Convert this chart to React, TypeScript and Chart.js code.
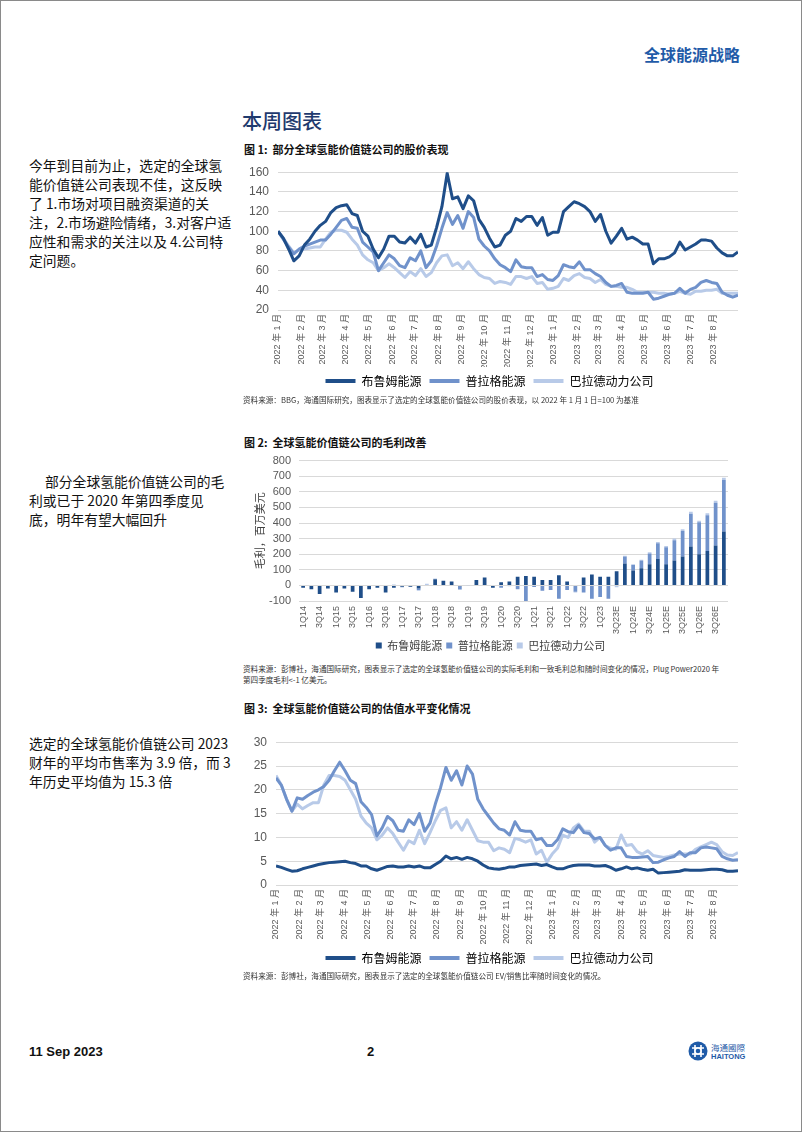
import React, { useEffect, useRef } from "react";
import { Chart, registerables } from "chart.js";
Chart.register(...registerables);

const SERIES_NAMES = ["布鲁姆能源", "普拉格能源", "巴拉德动力公司"];
const COLORS = ["#1F4E89", "#7092CB", "#B8CAE8"];

// Figure 1: share price, weekly from 2022-01-01 (2022-01-01 = 100)
const priceBloom = [
  100, 93, 82, 70, 75, 86, 92, 100, 106, 110,
  119, 124, 126, 127, 118, 116, 100, 95, 82, 73,
  82, 95, 95, 89, 88, 94, 88, 97, 84, 86,
  104, 125, 159, 133, 135, 123, 136, 131, 112, 104,
  93, 84, 86, 96, 100, 113, 110, 115, 115, 106,
  114, 96, 99, 99, 120, 125, 130, 128, 125, 120,
  110, 117, 100, 88, 95, 103, 92, 94, 91, 87,
  87, 67, 72, 72, 74, 78, 89, 81, 84, 87,
  91, 91, 90, 83, 78, 75, 75, 79,
];
const pricePlug = [
  100, 92, 84, 77, 82, 85, 87, 89, 91, 91,
  97, 104, 111, 113, 104, 103, 89, 84, 79, 60,
  68, 76, 72, 65, 63, 73, 70, 80, 63, 70,
  85, 103, 119, 107, 116, 103, 120, 114, 92, 85,
  80, 72, 66, 63, 59, 71, 64, 63, 63, 54,
  56, 51, 50, 55, 66, 64, 63, 69, 61, 61,
  57, 54, 48, 44, 45, 47, 38, 37, 37, 37,
  38, 31, 32, 34, 36, 37, 42, 37, 41, 43,
  48, 50, 48, 47, 38, 35, 33, 35,
];
const priceBallard = [
  100, 93, 85, 78, 81, 82, 83, 84, 84, 92,
  99, 101, 101, 99, 92, 86, 76, 71, 68, 60,
  63, 67, 63, 58, 53, 59, 55, 62, 54, 58,
  68, 75, 76, 65, 68, 62, 69, 62, 56, 53,
  52, 47, 49, 48, 46, 54, 54, 52, 54, 47,
  48, 41, 42, 44, 52, 50, 55, 57, 53, 52,
  48, 51, 46, 44, 44, 43, 43, 41, 38, 38,
  38, 38, 37, 37, 36, 37, 39, 37, 36, 39,
  39, 40, 40, 41, 37, 37, 37, 37,
];

// Figure 3: EV/Sales, weekly
const evBloom = [
  4, 3.7, 3.3, 2.9, 3, 3.4, 3.7, 4, 4.3, 4.5,
  4.7, 4.8, 4.9, 5, 4.7, 4.5, 4, 4, 3.4, 3.1,
  3.5, 3.9, 4, 3.8, 3.8, 4, 3.8, 4, 3.6, 3.6,
  4.3, 5, 6.1, 5.5, 5.8, 5.4, 5.8, 5.5, 5, 4.2,
  3.6, 3.4, 3.3, 3.5, 3.8, 3.8, 4.1, 4.2, 4.3, 4.4,
  4.1, 4.3, 3.8, 3.4, 3.4, 3.8, 4.1, 4.2, 4.2, 4.2,
  4, 4, 4.1, 3.7, 3.1, 3.4, 3.8, 3.4, 3.6, 3.3,
  3.1, 3.3, 2.5, 2.6, 2.7, 2.8, 2.9, 3.2, 3.1, 3.1,
  3.1, 3.2, 3.3, 3.3, 3.2, 2.9, 2.9, 3.0,
];
const evPlug = [
  22.5, 21, 18, 15.5, 18.3, 18, 18.8, 19.5, 20, 20.7,
  22, 24, 25.8, 24, 22, 21.3, 17.5, 16.3, 14.8, 10.3,
  12, 14.4, 13.5, 11.5, 11.3, 13.7, 12.7, 15, 11.3, 13,
  17, 20.5, 24.7, 22, 24, 21, 25, 23.3, 18, 16,
  14.5, 13, 11.8, 11.5, 10.5, 13.3, 11.5, 11.3, 11.3, 9.5,
  9.8, 8.3, 8.3, 9.5, 11.8, 11.2, 11, 12.5, 11, 10.8,
  9.7, 10, 8.3, 7.3, 7.8, 7.8, 6, 5.8, 5.8, 5.9,
  6, 4.7, 4.8, 5.3, 5.7, 6, 7, 6, 6.8, 6.8,
  7.8, 8, 7.8, 7.6, 6, 5.5, 5.2, 5.3,
];
const evBallard = [
  23, 21, 18, 15.5, 17, 16, 16.7, 17.3, 17.3, 21,
  23, 23, 22.8, 22, 20, 18, 14.5, 13, 12, 9.5,
  10.5, 12, 10.8, 9, 7.3, 9.3, 8.7, 11.5, 8.7, 11,
  13.5, 15.7, 16.2, 12, 13.3, 11.5, 13.7, 11.5, 9.3, 9,
  9, 7.2, 7.8, 7.5, 6.8, 9.8, 9.5, 9, 9.5, 6.5,
  7.3, 4.8, 6.5, 7.7, 10.5, 10, 12, 12.8, 11.3, 11.3,
  9, 10, 8.3, 7.7, 7.5, 10.5, 8.3, 8.5, 7, 6.5,
  7.2, 6.2, 6, 5.8, 6, 6.3, 6.5, 6.5, 6.5, 7.5,
  8, 8.5, 9, 8.5, 7, 6.3, 6.2, 6.8,
];

const monthTickLabels = [
  "2022 年 1 月", "2022 年 2 月", "2022 年 3 月", "2022 年 4 月", "2022 年 5 月",
  "2022 年 6 月", "2022 年 7 月", "2022 年 8 月", "2022 年 9 月", "2022 年 10 月",
  "2022 年 11 月", "2022 年 12 月", "2023 年 1 月", "2023 年 2 月", "2023 年 3 月",
  "2023 年 4 月", "2023 年 5 月", "2023 年 6 月", "2023 年 7 月", "2023 年 8 月",
];

// Figure 2: gross profit, USD mn, quarterly
const quarterLabels = [
  "1Q14", "2Q14", "3Q14", "4Q14", "1Q15", "2Q15", "3Q15", "4Q15",
  "1Q16", "2Q16", "3Q16", "4Q16", "1Q17", "2Q17", "3Q17", "4Q17",
  "1Q18", "2Q18", "3Q18", "4Q18", "1Q19", "2Q19", "3Q19", "4Q19",
  "1Q20", "2Q20", "3Q20", "4Q20", "1Q21", "2Q21", "3Q21", "4Q21",
  "1Q22", "2Q22", "3Q22", "4Q22", "1Q23", "2Q23", "3Q23E", "4Q23E",
  "1Q24E", "2Q24E", "3Q24E", "4Q24E", "1Q25E", "2Q25E", "3Q25E", "4Q25E",
  "1Q26E", "2Q26E", "3Q26E", "4Q26E",
];
const gpBloom = [
  -15, -25, -55, -20, -45, -20, -40, -80, -25, -15,
  -45, -15, -8, -8, -20, 3, 40, 30, 25, -5,
  2, 35, 50, -15, 20, 25, 55, 60, 55, 35,
  35, 65, 25, 3, 50, 70, 55, 55, 90, 140,
  95, 110, 135, 170, 135, 160, 185, 250, 200, 220,
  255, 345,
];
const gpPlug = [
  0, 0, 0, 0, 0, 0, 0, 0, 0, 0,
  0, 0, 0, 0, -10, 0, 0, 0, 0, -20,
  0, 0, 0, 0, -15, 0, -25, -110, -10, -35,
  -30, -85, -30, -40, -45, -85, -75, -85, 0, 45,
  35, 50, 70, 100, 110, 130, 165, 210, 205, 230,
  275, 330,
];
const gpBallard = [
  0, 0, 0, 0, 0, 0, 0, 0, 0, 0,
  0, 5, -5, -3, -5, 8, 5, 0, 0, -5,
  -3, 0, 0, 0, 0, -5, 0, 0, 0, 0,
  0, 0, 0, -5, 0, 0, 0, 0, -12, 5,
  5, 5, 8, 8, 8, 10, 10, 12, 10, 12,
  12, 15,
];

const CJK = "'Noto Sans CJK SC', 'Noto Sans', sans-serif";
const NUM = "'Liberation Sans', 'DejaVu Sans', sans-serif";
const XTICK = "'Liberation Sans Narrow', 'Liberation Sans', 'Noto Sans CJK SC', sans-serif";
const TICK_COLOR = "#595959";
const GRID_COLOR = "#D9D9D9";

const DAY = 86400000;
const START = Date.UTC(2022, 0, 1);
const weekDays = priceBloom.map((_, i) => i * 7);
const monthDays = monthTickLabels.map((_, k) => Math.round((Date.UTC(2022, k, 1) - START) / DAY));
const lastDay = weekDays[weekDays.length - 1];

function lineLegend(chart: any) {
  return chart.data.datasets.map((d: any, i: number) => ({
    text: d.label,
    fillStyle: d.borderColor,
    strokeStyle: d.borderColor,
    lineWidth: 0,
    hidden: false,
    datasetIndex: i,
  }));
}

function lineConfig(series: number[][], yMin: number, yMax: number, step: number, yWidth: number, xHeight: number, padTop: number, padRight: number) {
  return {
    type: "line",
    data: {
      datasets: series.map((vals, i) => ({
        label: SERIES_NAMES[i],
        data: vals.map((v, j) => ({ x: weekDays[j], y: v })),
        borderColor: COLORS[i],
        backgroundColor: COLORS[i],
        borderWidth: 3,
        pointRadius: 0,
        tension: 0,
        borderJoinStyle: "round",
      })),
    },
    options: {
      responsive: false,
      animation: false,
      layout: { padding: { top: padTop, right: padRight, bottom: 0, left: 0 } },
      plugins: {
        tooltip: { enabled: false },
        legend: {
          position: "bottom",
          labels: {
            boxWidth: 30,
            boxHeight: 4,
            padding: 8,
            color: "#404040",
            font: { family: CJK, size: 12 },
            generateLabels: lineLegend,
          },
        },
      },
      scales: {
        x: {
          type: "linear",
          min: 0,
          max: lastDay,
          afterBuildTicks: (s: any) => {
            s.ticks = monthDays.map((v) => ({ value: v }));
          },
          afterFit: (s: any) => {
            s.height = xHeight;
          },
          grid: { display: false, drawTicks: false, tickLength: 0 },
          border: { display: false },
          ticks: {
            autoSkip: false,
            minRotation: 90,
            maxRotation: 90,
            padding: 4,
            color: TICK_COLOR,
            font: { family: XTICK, size: 9 },
            callback: (v: any) => {
              const i = monthDays.indexOf(v);
              return i >= 0 ? monthTickLabels[i] : "";
            },
          },
        },
        y: {
          min: yMin,
          max: yMax,
          afterFit: (s: any) => {
            s.width = yWidth;
          },
          grid: { color: GRID_COLOR, drawTicks: false, lineWidth: 1 },
          border: { display: false },
          ticks: {
            autoSkip: false,
            stepSize: step,
            padding: 9,
            color: TICK_COLOR,
            font: { family: NUM, size: 12 },
          },
        },
      },
    },
  };
}

function barConfig() {
  const sets = [gpBloom, gpPlug, gpBallard];
  return {
    type: "bar",
    data: {
      labels: quarterLabels,
      datasets: sets.map((vals, i) => ({
        label: SERIES_NAMES[i],
        data: vals,
        backgroundColor: COLORS[i],
        borderWidth: 0,
        barPercentage: 0.45,
        categoryPercentage: 1,
      })),
    },
    options: {
      responsive: false,
      animation: false,
      layout: { padding: { top: 13, right: 33, bottom: 0, left: 12 } },
      plugins: {
        tooltip: { enabled: false },
        legend: {
          position: "bottom",
          labels: {
            boxWidth: 6,
            boxHeight: 6,
            padding: 4,
            color: "#404040",
            font: { family: CJK, size: 11 },
          },
        },
      },
      scales: {
        x: {
          stacked: true,
          afterFit: (s: any) => {
            s.height = 35;
          },
          grid: { display: false, drawTicks: false, tickLength: 0 },
          border: { display: false },
          ticks: {
            autoSkip: false,
            minRotation: 90,
            maxRotation: 90,
            padding: 5,
            color: TICK_COLOR,
            font: { family: NUM, size: 9 },
            callback: function (this: any, v: any, idx: number) {
              return idx % 2 === 0 ? quarterLabels[idx] : "";
            },
          },
        },
        y: {
          stacked: true,
          min: -100,
          max: 800,
          afterFit: (s: any) => {
            s.width = 46;
          },
          title: {
            display: true,
            text: "毛利，百万美元",
            color: "#404040",
            font: { family: CJK, size: 11 },
            padding: 0,
          },
          grid: { color: GRID_COLOR, drawTicks: false, lineWidth: 1 },
          border: { display: false },
          ticks: {
            autoSkip: false,
            stepSize: 100,
            padding: 8,
            color: TICK_COLOR,
            font: { family: NUM, size: 11 },
          },
        },
      },
    },
  };
}

function ChartCanvas(props: { left: number; top: number; width: number; height: number; make: () => any }) {
  const ref = useRef<HTMLCanvasElement | null>(null);
  useEffect(() => {
    const chart = new Chart(ref.current as HTMLCanvasElement, props.make());
    return () => chart.destroy();
  }, []);
  return (
    <canvas
      ref={ref}
      width={props.width}
      height={props.height}
      style={{ position: "absolute", left: props.left, top: props.top, width: props.width, height: props.height }}
    />
  );
}

const abs = (left: number, top: number, extra: any = {}) => ({ position: "absolute" as const, left, top, ...extra });

function Logo() {
  return (
    <svg width={20} height={20} viewBox="0 0 20 20" style={abs(687, 1040)}>
      <circle cx={10} cy={10} r={9.5} fill="#1F5BA8" />
      <path d="M4 7 H16 M4 13 H16 M7 4 V16 M13 4 V16" stroke="#fff" strokeWidth={1.6} fill="none" />
      <circle cx={10} cy={10} r={3} fill="#1F5BA8" stroke="#fff" strokeWidth={1.4} />
    </svg>
  );
}

export default function App() {
  const para = { fontFamily: CJK, fontSize: 13.8, lineHeight: "19px", color: "#111", whiteSpace: "nowrap" as const };
  const figTitle = { fontFamily: CJK, fontSize: 11, fontWeight: 700, color: "#111", whiteSpace: "pre" as const, lineHeight: "14px" };
  const source = { fontFamily: CJK, fontSize: 7.6, color: "#333", whiteSpace: "nowrap" as const, lineHeight: "11px" };
  return (
    <div
      style={{
        position: "absolute",
        left: 0,
        top: 0,
        width: 802,
        height: 1132,
        boxSizing: "border-box",
        border: "1px solid #8a8a8a",
        background: "#fff",
        overflow: "hidden",
      }}
    >
      <div style={abs(643, 43, { fontFamily: CJK, fontSize: 16, fontWeight: 700, color: "#1F5BA8", lineHeight: "20px" })}>全球能源战略</div>
      <div style={abs(241, 107, { fontFamily: CJK, fontSize: 20, color: "#1F3A6E", lineHeight: "26px", fontWeight: 500 })}>本周图表</div>

      <div style={abs(28, 155, para)}>
        今年到目前为止，选定的全球氢<br />
        能价值链公司表现不佳，这反映<br />
        了 1.市场对项目融资渠道的关<br />
        注，2.市场避险情绪，3.对客户适<br />
        应性和需求的关注以及 4.公司特<br />
        定问题。
      </div>
      <div style={abs(28, 471, para)}>
        <span style={{ paddingLeft: 16 }}>部分全球氢能价值链公司的毛</span><br />
        利或已于 2020 年第四季度见<br />
        底，明年有望大幅回升
      </div>
      <div style={abs(28, 733, para)}>
        选定的全球氢能价值链公司 2023<br />
        财年的平均市售率为 3.9 倍，而 3<br />
        年历史平均值为 15.3 倍
      </div>

      <div style={abs(243, 141, figTitle)}>{"图 1:  部分全球氢能价值链公司的股价表现"}</div>
      <ChartCanvas left={240} top={155} width={520} height={241}
        make={() => lineConfig([priceBloom, pricePlug, priceBallard], 20, 160, 20, 37, 57, 12, 23)} />
      <div style={abs(242, 393, source)}>资料来源：BBG，海通国际研究，图表显示了选定的全球氢能价值链公司的股价表现，以 2022 年 1 月 1 日=100 为基准</div>

      <div style={abs(243, 434, figTitle)}>{"图 2:  全球氢能价值链公司的毛利改善"}</div>
      <ChartCanvas left={240} top={445} width={520} height={215} make={barConfig} />
      <div style={abs(242, 662, source)}>
        资料来源：彭博社，海通国际研究，图表显示了选定的全球氢能价值链公司的实际毛利和一致毛利总和随时间变化的情况，Plug Power2020 年<br />
        第四季度毛利&lt;-1 亿美元。
      </div>

      <div style={abs(243, 700, figTitle)}>{"图 3:  全球氢能价值链公司的估值水平变化情况"}</div>
      <ChartCanvas left={240} top={725} width={520} height={248}
        make={() => lineConfig([evBloom, evPlug, evBallard], 0, 30, 5, 35, 59, 13, 23)} />
      <div style={abs(242, 969, source)}>资料来源：彭博社，海通国际研究，图表显示了选定的全球氢能价值链公司 EV/销售比率随时间变化的情况。</div>

      <div style={abs(28, 1042, { fontFamily: "'Liberation Sans Narrow', 'Liberation Sans', sans-serif", fontSize: 13, fontWeight: 700, color: "#111", lineHeight: "18px" })}>11 Sep 2023</div>
      <div style={abs(366, 1042, { fontFamily: "'Liberation Sans', sans-serif", fontSize: 13, fontWeight: 700, color: "#111", lineHeight: "18px" })}>2</div>
      <Logo />
      <div style={abs(710, 1041, { fontFamily: CJK, fontSize: 8.5, color: "#1F5BA8", lineHeight: "10px" })}>海通國際</div>
      <div style={abs(710, 1051, { fontFamily: NUM, fontSize: 7.5, fontWeight: 700, color: "#1F5BA8", lineHeight: "9px" })}>HAITONG</div>
    </div>
  );
}
